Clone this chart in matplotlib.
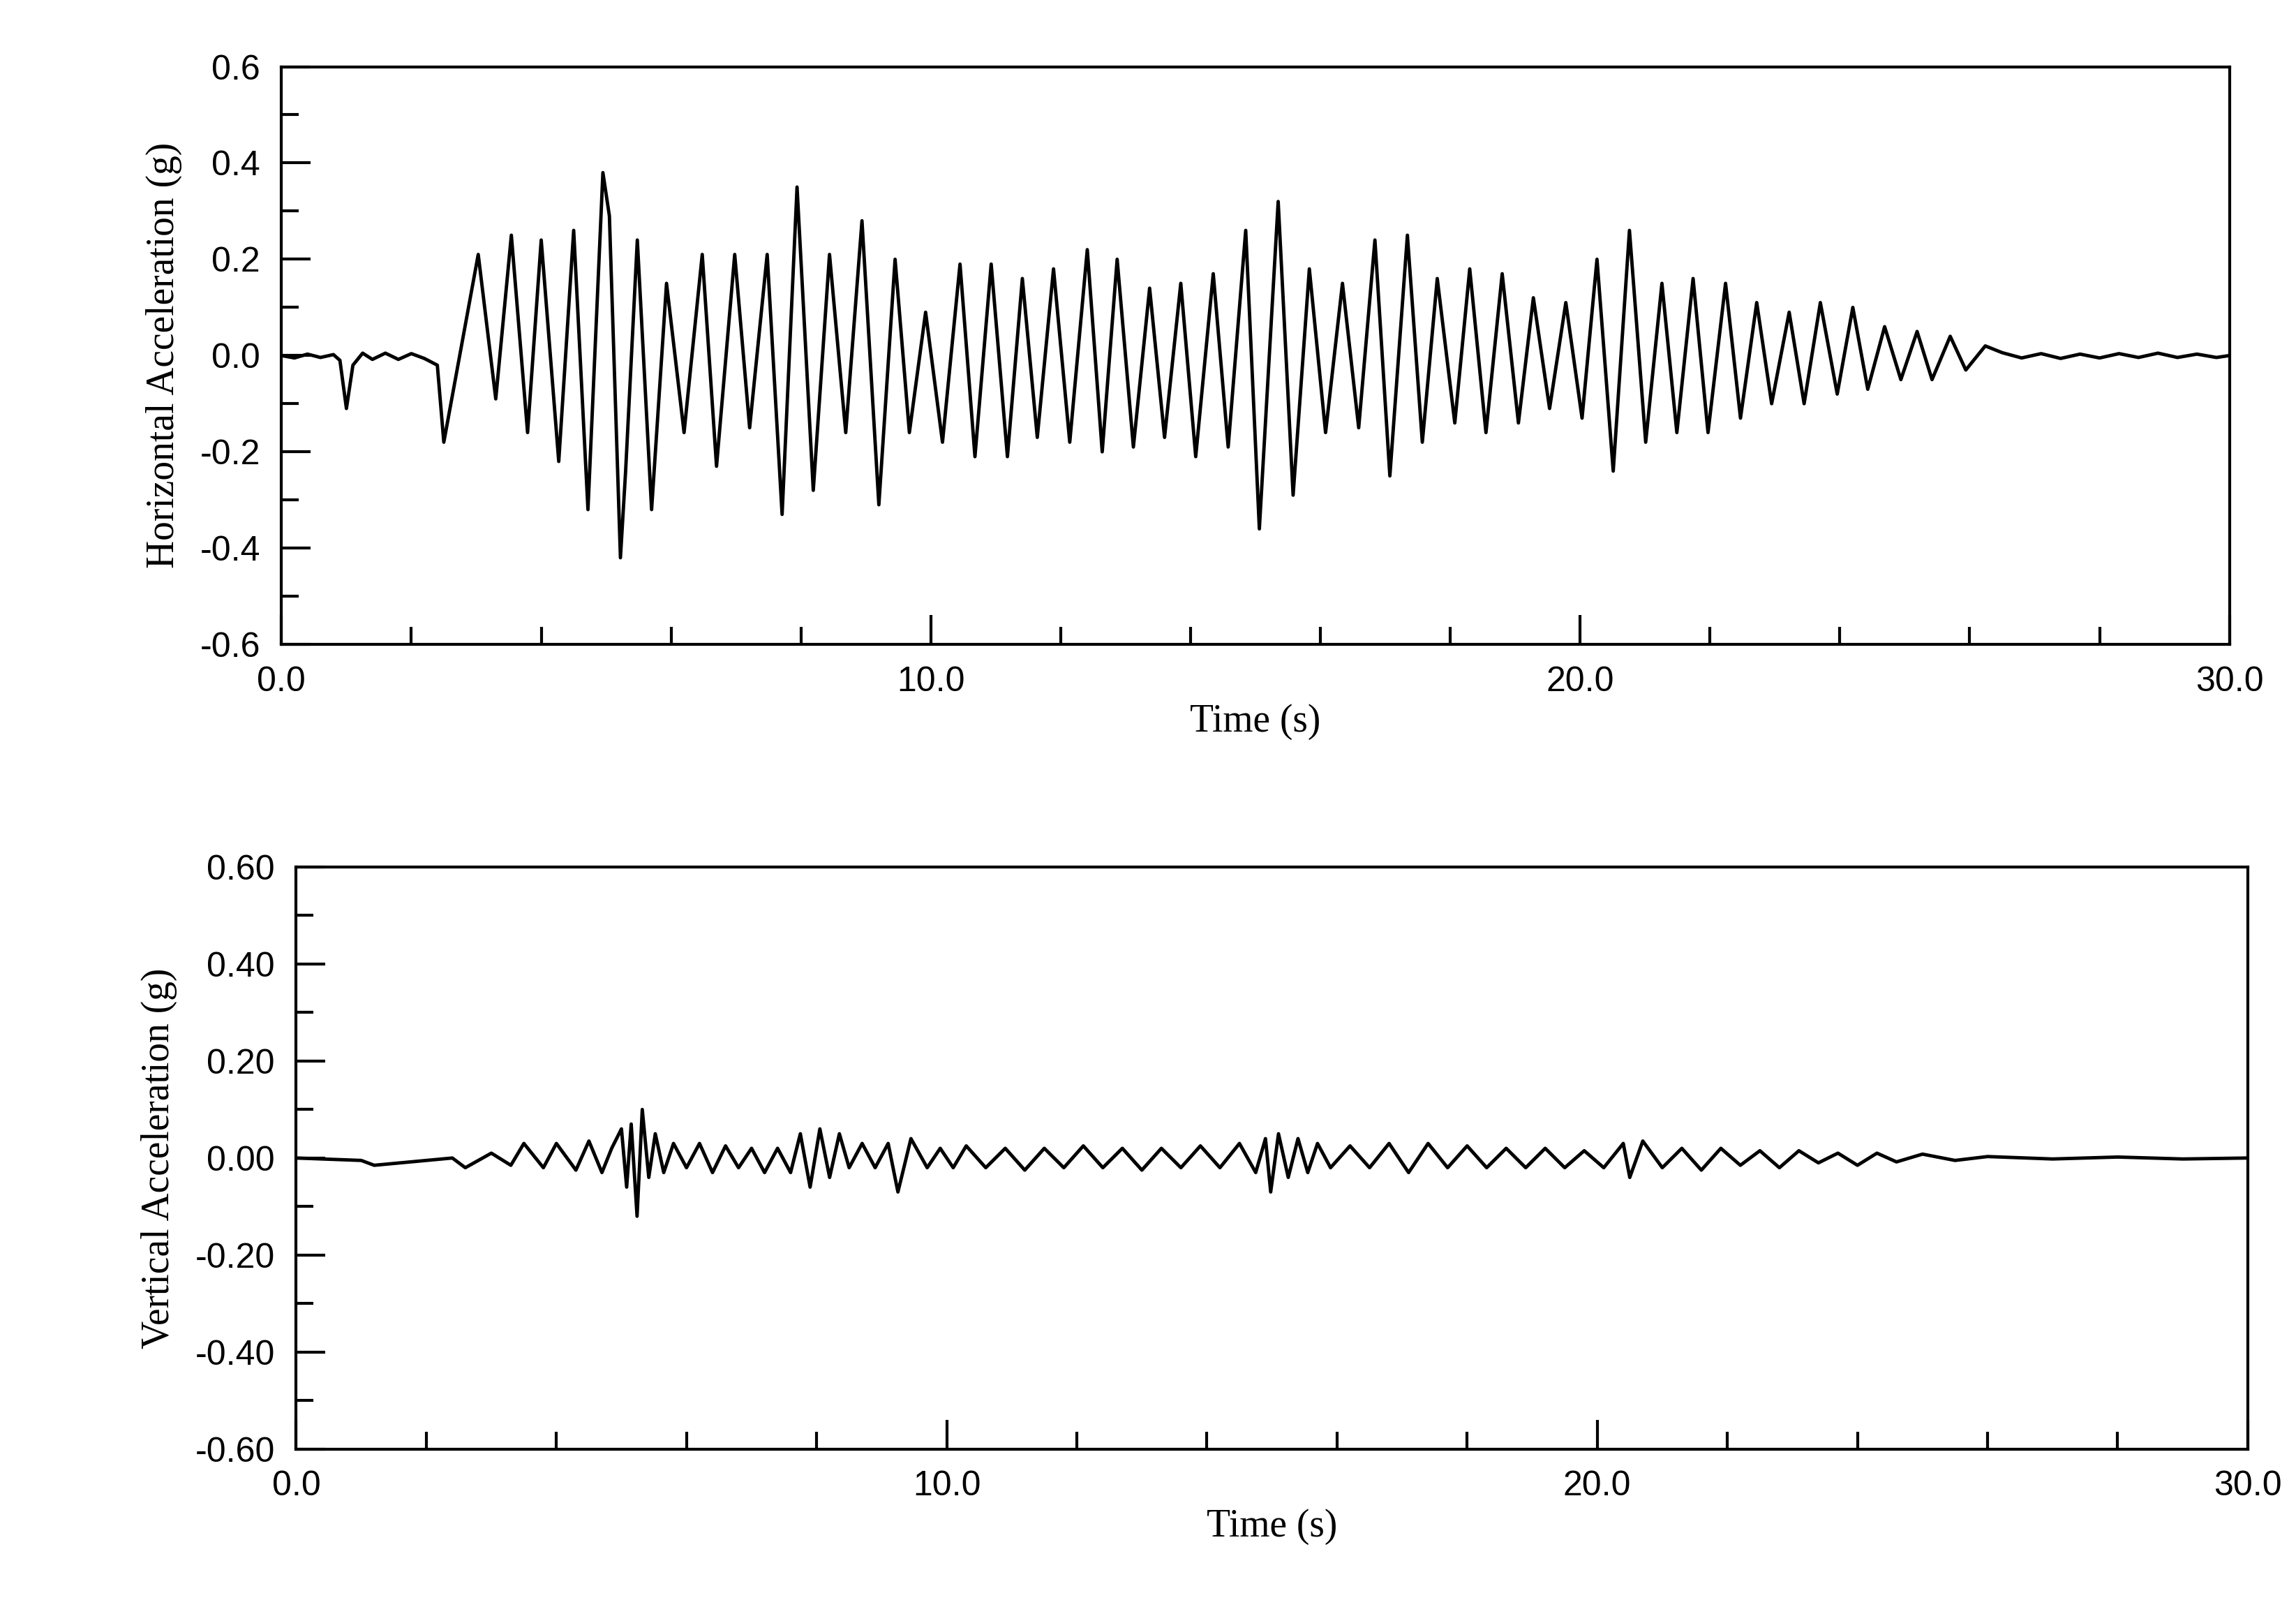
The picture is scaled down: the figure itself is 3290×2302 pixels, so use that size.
import matplotlib
matplotlib.use("Agg")
import matplotlib.pyplot as plt
from matplotlib.ticker import MultipleLocator, FormatStrFormatter

# Horizontal acceleration: extrema (time s, accel g)
h_t = [0.0, 0.2, 0.4, 0.6, 0.8, 0.9, 1.0, 1.1, 1.25, 1.4, 1.6, 1.8, 2.0, 2.2, 2.4,
       2.5, 3.03, 3.3, 3.54, 3.79, 4.0, 4.27, 4.5, 4.72, 4.95, 5.05, 5.22, 5.3, 5.48, 5.70,
       5.93, 6.2, 6.48, 6.7, 6.98, 7.21, 7.48, 7.71, 7.94, 8.19, 8.44, 8.69, 8.94, 9.2,
       9.45, 9.67, 9.92, 10.18, 10.45, 10.68, 10.93, 11.18, 11.41, 11.64, 11.89, 12.14,
       12.41, 12.64, 12.87, 13.12, 13.37, 13.6, 13.85, 14.08, 14.35, 14.58, 14.85, 15.06,
       15.35, 15.58, 15.83, 16.08, 16.34, 16.59, 16.84, 17.07, 17.34, 17.57, 17.8, 18.07,
       18.3, 18.55, 18.8, 19.05, 19.28, 19.53, 19.78, 20.03, 20.26, 20.51, 20.76, 21.01,
       21.26, 21.49, 21.74, 21.97, 22.24, 22.47, 22.72, 22.95, 23.22, 23.45, 23.7, 23.96,
       24.2, 24.43, 24.69, 24.94, 25.19, 25.42, 25.7, 25.94, 26.24, 26.5, 26.8, 27.1,
       27.4, 27.7, 28.0, 28.3, 28.6, 28.9, 29.2, 29.5, 29.8, 30.0]
h_a = [0.0, -0.005, 0.003, -0.004, 0.002, -0.01, -0.11, -0.02, 0.005, -0.008, 0.005,
       -0.008, 0.004, -0.006, -0.02,
       -0.18, 0.21, -0.09, 0.25, -0.16, 0.24, -0.22, 0.26, -0.32, 0.38, 0.29, -0.42, -0.24,
       0.24, -0.32, 0.15, -0.16, 0.21, -0.23, 0.21, -0.15, 0.21, -0.33, 0.35, -0.28, 0.21,
       -0.16, 0.28, -0.31, 0.20, -0.16, 0.09, -0.18, 0.19, -0.21, 0.19, -0.21, 0.16, -0.17,
       0.18, -0.18, 0.22, -0.20, 0.20, -0.19, 0.14, -0.17, 0.15, -0.21, 0.17, -0.19, 0.26,
       -0.36, 0.32, -0.29, 0.18, -0.16, 0.15, -0.15, 0.24, -0.25, 0.25, -0.18, 0.16, -0.14,
       0.18, -0.16, 0.17, -0.14, 0.12, -0.11, 0.11, -0.13, 0.20, -0.24, 0.26, -0.18, 0.15,
       -0.16, 0.16, -0.16, 0.15, -0.13, 0.11, -0.10, 0.09, -0.10, 0.11, -0.08, 0.10, -0.07,
       0.06, -0.05, 0.05, -0.05, 0.04, -0.03, 0.02, 0.006, -0.005, 0.004, -0.006,
       0.003, -0.005, 0.004, -0.004, 0.005, -0.004, 0.003, -0.004, 0.0]

# Vertical acceleration: extrema (time s, accel g)
v_t = [0.0, 1.0, 1.2, 2.4, 2.6, 3.0, 3.3, 3.5, 3.8, 4.0, 4.3, 4.5, 4.7, 4.85, 5.0, 5.08,
       5.15, 5.24, 5.32, 5.42, 5.52, 5.65, 5.8, 6.0, 6.2, 6.4, 6.6, 6.8, 7.0, 7.2, 7.4,
       7.6, 7.75, 7.9, 8.05, 8.2, 8.35, 8.5, 8.7, 8.9, 9.1, 9.25, 9.45, 9.7, 9.9, 10.1,
       10.3, 10.6, 10.9, 11.2, 11.5, 11.8, 12.1, 12.4, 12.7, 13.0, 13.3, 13.6, 13.9, 14.2,
       14.5, 14.75, 14.9, 14.98, 15.1, 15.25, 15.4, 15.55, 15.7, 15.9, 16.2, 16.5, 16.8,
       17.1, 17.4, 17.7, 18.0, 18.3, 18.6, 18.9, 19.2, 19.5, 19.8, 20.1, 20.4, 20.5, 20.7,
       21.0, 21.3, 21.6, 21.9, 22.2, 22.5, 22.8, 23.1, 23.4, 23.7, 24.0, 24.3, 24.6, 25.0,
       25.5, 26.0, 27.0, 28.0, 29.0, 30.0]
v_a = [0.0, -0.005, -0.015, 0.0, -0.02, 0.01, -0.015, 0.03, -0.02, 0.03, -0.025, 0.035,
       -0.03, 0.02, 0.06, -0.06, 0.07, -0.12, 0.10, -0.04, 0.05, -0.03, 0.03, -0.02, 0.03,
       -0.03, 0.025, -0.02, 0.02, -0.03, 0.02, -0.03, 0.05, -0.06, 0.06, -0.04, 0.05, -0.02,
       0.03, -0.02, 0.03, -0.07, 0.04, -0.02, 0.02, -0.02, 0.025, -0.02, 0.02, -0.025, 0.02,
       -0.02, 0.025, -0.02, 0.02, -0.025, 0.02, -0.02, 0.025, -0.02, 0.03, -0.03, 0.04,
       -0.07, 0.05, -0.04, 0.04, -0.03, 0.03, -0.02, 0.025, -0.02, 0.03, -0.03, 0.03,
       -0.02, 0.025, -0.02, 0.02, -0.02, 0.02, -0.02, 0.015, -0.02, 0.03, -0.04, 0.035,
       -0.02, 0.02, -0.025, 0.02, -0.015, 0.015, -0.02, 0.015, -0.01, 0.01, -0.015, 0.01,
       -0.008, 0.008, -0.005, 0.003, -0.002, 0.002, -0.002, 0.0]

serif = ["Liberation Serif", "DejaVu Serif"]
sans = ["Liberation Sans", "DejaVu Sans"]

fig = plt.figure(figsize=(32.9, 23.02), dpi=100)
ax1 = fig.add_axes([0.1226, 0.599, 0.8484, 0.3595])
ax2 = fig.add_axes([0.129, 0.0982, 0.850, 0.3624])

def style(ax, ymaj, ymin, fmt, ylabel):
    ax.set_xlim(0, 30)
    ax.set_ylim(-0.6, 0.6)
    ax.xaxis.set_major_locator(MultipleLocator(10))
    ax.xaxis.set_minor_locator(MultipleLocator(2))
    ax.yaxis.set_major_locator(MultipleLocator(ymaj))
    ax.yaxis.set_minor_locator(MultipleLocator(ymin))
    ax.xaxis.set_major_formatter(FormatStrFormatter("%.1f"))
    ax.yaxis.set_major_formatter(FormatStrFormatter(fmt))
    ax.tick_params(which="major", direction="in", length=30, width=3, labelsize=36, pad=22)
    ax.tick_params(which="minor", direction="in", length=18, width=3)
    for lab in ax.get_xticklabels() + ax.get_yticklabels():
        lab.set_family(sans)
    for s in ax.spines.values():
        s.set_linewidth(3)
    ax.set_xlabel("Time (s)", family=serif, fontsize=40, labelpad=6)
    ax.set_ylabel(ylabel, family=serif, fontsize=40, labelpad=18)

ax1.plot(h_t, h_a, color="black", lw=3.5)
style(ax1, 0.2, 0.1, "%.1f", "Horizontal Acceleration (g)")
ax2.plot(v_t, v_a, color="black", lw=3.5)
style(ax2, 0.2, 0.1, "%.2f", "Vertical Acceleration (g)")

fig.savefig("out.png", dpi=100)
